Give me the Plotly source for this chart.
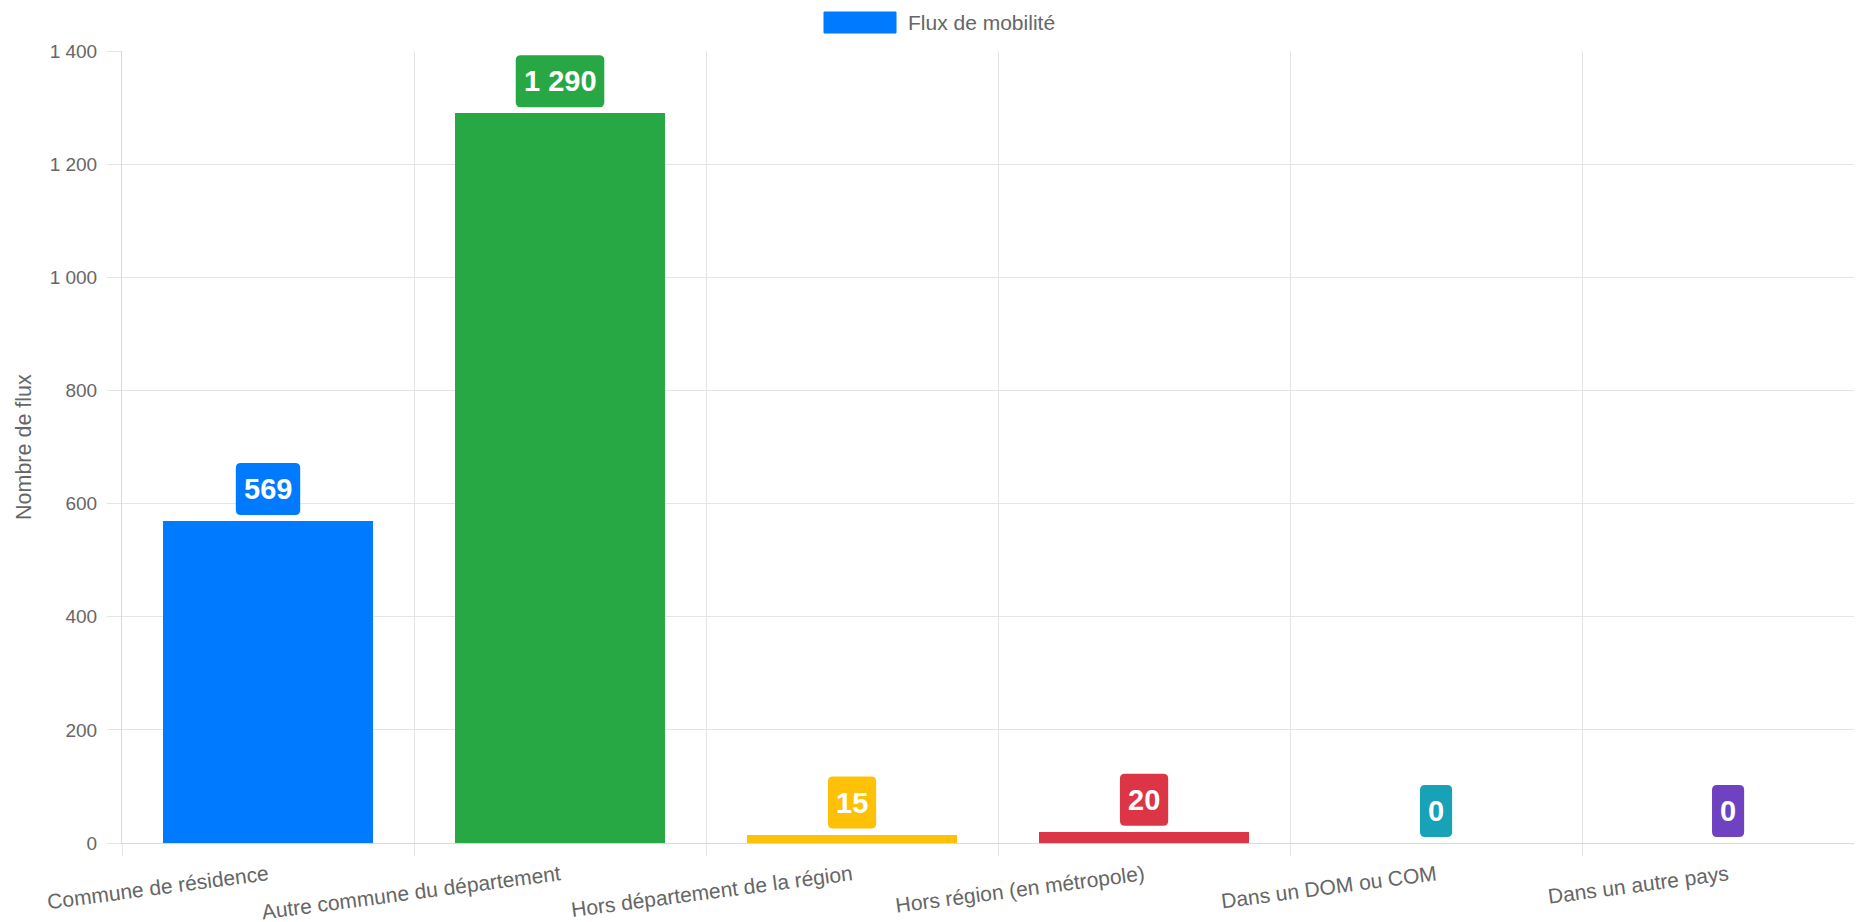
import plotly.graph_objects as go

categories = [
    "Commune de résidence",
    "Autre commune du département",
    "Hors département de la région",
    "Hors région (en métropole)",
    "Dans un DOM ou COM",
    "Dans un autre pays",
]
values = [569, 1290, 15, 20, 0, 0]
colors = ["#007bff", "#28a745", "#ffc107", "#dc3545", "#17a2b8", "#6f42c1"]
series_name = "Flux de mobilité"
y_title = "Nombre de flux"

W, H = 1862, 922
ML, MR, MT, MB = 114, 0, 43, 87
PW = W - ML - MR
PH = H - MT - MB
FONT = "Liberation Sans, Arial, sans-serif"
GREY = "#666666"
GRID = "#e5e5e5"

LBL_FS = 29
LBL_PADX = 8
LBL_H = 52
LBL_GAP = 6
LBL_R = 5


def px_x(px):
    return (px - ML) / PW


def px_y(py):
    return (H - MB - py) / PH


def fmt(v):
    return f"{v:,}".replace(",", " ")


def text_w(s, fs):
    w = 0.0
    for ch in s:
        w += 0.278 if ch == " " else 0.556
    return w * fs


def rounded_path(x0, x1, y0, y1, r):
    return (
        f"M {x0 + r},{y0} L {x1 - r},{y0} Q {x1},{y0} {x1},{y0 + r} "
        f"L {x1},{y1 - r} Q {x1},{y1} {x1 - r},{y1} "
        f"L {x0 + r},{y1} Q {x0},{y1} {x0},{y1 - r} "
        f"L {x0},{y0 + r} Q {x0},{y0} {x0 + r},{y0} Z"
    )


fig = go.Figure()
fig.add_trace(
    go.Bar(
        x=categories,
        y=values,
        name=series_name,
        marker=dict(color=colors, line=dict(width=0)),
        width=0.72,
        hoverinfo="skip",
        showlegend=False,
    )
)

annotations = []
shapes = []
for i, (c, v, col) in enumerate(zip(categories, values, colors)):
    label = fmt(v)
    half = text_w(label, LBL_FS) / 2 + LBL_PADX
    shapes.append(
        dict(
            type="path",
            xref="x",
            yref="y",
            xsizemode="pixel",
            ysizemode="pixel",
            xanchor=i,
            yanchor=v,
            path=rounded_path(-half, half, LBL_GAP, LBL_GAP + LBL_H, LBL_R),
            fillcolor=col,
            line=dict(width=0),
            layer="above",
        )
    )
    annotations.append(
        dict(
            x=c,
            y=v,
            xref="x",
            yref="y",
            text="<b>" + label + "</b>",
            showarrow=False,
            yanchor="middle",
            xanchor="center",
            yshift=LBL_GAP + LBL_H / 2,
            font=dict(family=FONT, size=LBL_FS, color="white"),
        )
    )

# legend (manual, Chart.js style wide box)
shapes.append(
    dict(
        type="rect",
        xref="paper",
        yref="paper",
        x0=px_x(816),
        x1=px_x(888),
        y0=px_y(25),
        y1=px_y(4),
        fillcolor=colors[0],
        line=dict(color=colors[0], width=1),
    )
)
annotations.append(
    dict(
        x=px_x(898),
        y=px_y(14.5),
        xref="paper",
        yref="paper",
        text=series_name,
        showarrow=False,
        xanchor="left",
        yanchor="middle",
        font=dict(family=FONT, size=21, color=GREY),
    )
)
annotations.append(
    dict(
        x=px_x(16),
        y=0.5,
        xref="paper",
        yref="paper",
        text=y_title,
        textangle=-90,
        showarrow=False,
        xanchor="center",
        yanchor="middle",
        font=dict(family=FONT, size=21.5, color=GREY),
    )
)

fig.update_layout(
    width=W,
    height=H,
    margin=dict(l=ML, r=MR, t=MT, b=MB, pad=0),
    paper_bgcolor="white",
    plot_bgcolor="white",
    separators=", ",
    annotations=annotations,
    shapes=shapes,
    bargap=0,
    showlegend=False,
)

fig.update_xaxes(
    type="category",
    range=[-0.5, 5.486],
    tickson="boundaries",
    showgrid=True,
    gridcolor=GRID,
    gridwidth=1,
    ticks="outside",
    ticklen=12,
    tickcolor=GRID,
    tickangle=-7.5,
    ticklabelstandoff=11,
    tickfont=dict(family=FONT, size=21, color=GREY),
    showline=True,
    linecolor="#d9d9d9",
    linewidth=1,
    zeroline=False,
    automargin=False,
)

fig.update_yaxes(
    range=[0, 1400],
    dtick=200,
    tick0=0,
    showgrid=True,
    gridcolor=GRID,
    gridwidth=1,
    ticks="outside",
    ticklen=14,
    tickcolor=GRID,
    separatethousands=True,
    ticklabelstandoff=6,
    tickfont=dict(family=FONT, size=19, color=GREY),
    showline=True,
    linecolor="#d9d9d9",
    linewidth=1,
    zeroline=False,
    automargin=False,
)

fig.write_html("out.html")
